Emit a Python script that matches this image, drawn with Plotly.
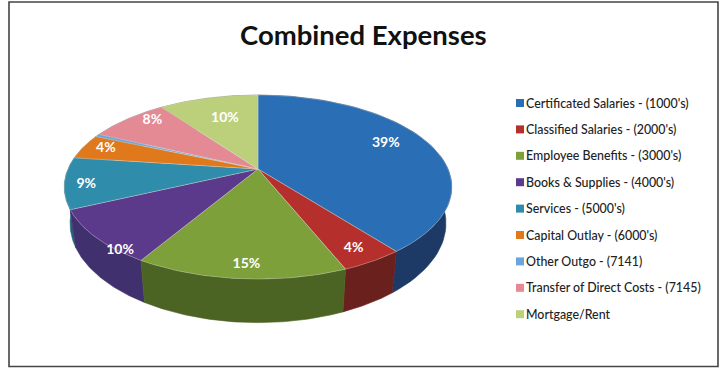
import numpy as np
import plotly.graph_objects as go

# Chart content
categories = ["Certificated Salaries - (1000's)", "Classified Salaries - (2000's)",
              "Employee Benefits - (3000's)", "Books & Supplies - (4000's)",
              "Services - (5000's)", "Capital Outlay - (6000's)", "Other Outgo - (7141)",
              "Transfer of Direct Costs - (7145)", "Mortgage/Rent"]
values = [39.4, 4.4, 14.7, 9.5, 9.0, 4.4, 0.5, 8.0, 10.0]
top_colors = ["#2a6fb5", "#b5302c", "#7ea03a", "#5b3a8c", "#2f8cab", "#e0791c", "#6aa6dc", "#e48a95", "#bcd07c"]
wall_colors = ["#1d3a66", "#6a201c", "#4b6323", "#41306e", "#24617a", "#8f4d12", "#44698c", "#90565e", "#76834e"]
title_text = "Combined Expenses"

# Projected disc: perspective tilt with the apex above the outline's middle
CX, CY = 258, 169
RX, RY, TILT = 190, 88.5, 0.196
DEPTH, FAR_SCALE = 35, 0.97
HIDDEN_LABEL_BELOW = 1.0
LABEL_RADIUS = 0.85
LABEL_NUDGE = [(-17, -2), (1, 3), (3, 6), (-3, 25), (-8, 4), (-3, -1), (0, 0), (7, -5), (10, 11)]


def project(theta, radius=1.0, lower=False):
    x = radius * np.sin(theta)
    y = radius * np.cos(theta)
    den = 1 + TILT * y
    px = x / den * RX * (FAR_SCALE if lower else 1.0)
    py = -y / den * RY + (DEPTH / den if lower else 0.0)
    return CX + px, CY + py


total = sum(values)
edges = 2 * np.pi * np.cumsum([0] + values) / total
fig = go.Figure()


def polygon(xs, ys, color, edge=None):
    fig.add_trace(go.Scatter(x=xs, y=ys, mode="lines", fill="toself", fillcolor=color,
                             line=dict(color=edge or color, width=0.6),
                             hoverinfo="skip", showlegend=False))


# Outer walls, back to front so nearer slices cover farther ones
order = sorted(range(len(values)), key=lambda i: np.cos((edges[i] + edges[i + 1]) / 2), reverse=True)
for i in order:
    arc = np.linspace(edges[i], edges[i + 1], 60)
    ux, uy = project(arc)
    lx, ly = project(arc[::-1], lower=True)
    polygon(np.r_[ux, lx, ux[0]], np.r_[uy, ly, uy[0]], wall_colors[i])

# Top faces
for i in range(len(values)):
    arc = np.linspace(edges[i], edges[i + 1], 60)
    ux, uy = project(arc)
    polygon(np.r_[CX, ux, CX], np.r_[CY, uy, CY], top_colors[i], "rgba(225,225,215,0.55)")

# Percentage labels derived from the slice values
lab_x, lab_y, lab_t = [], [], []
for i, v in enumerate(values):
    share = 100 * v / total
    if share < HIDDEN_LABEL_BELOW:
        continue
    lx, ly = project((edges[i] + edges[i + 1]) / 2, LABEL_RADIUS)
    lab_x.append(lx + LABEL_NUDGE[i][0])
    lab_y.append(ly + LABEL_NUDGE[i][1])
    lab_t.append(f"{round(share)}%")
fig.add_trace(go.Scatter(x=lab_x, y=lab_y, text=lab_t, mode="text", textposition="middle center",
                         textfont=dict(family="Lato", size=14, color="#ffffff", weight=700),
                         hoverinfo="skip", showlegend=False))

# Key on the right
rows = 103 + 26.4 * np.arange(len(categories))
fig.add_trace(go.Scatter(x=[520] * len(categories), y=rows, mode="markers",
                         marker=dict(symbol="square", size=8, color=top_colors),
                         hoverinfo="skip", showlegend=False))
fig.add_trace(go.Scatter(x=[526] * len(categories), y=rows + 1.5, text=categories, mode="text",
                         textposition="middle right",
                         textfont=dict(family="Lato", size=12.4, color="#222222", weight=500),
                         hoverinfo="skip", showlegend=False))

axis = dict(visible=False, fixedrange=True)
fig.update_layout(
    width=724, height=368, margin=dict(l=0, r=0, t=0, b=0),
    paper_bgcolor="#ffffff", plot_bgcolor="#ffffff",
    xaxis=dict(range=[0, 724], **axis), yaxis=dict(range=[368, 0], **axis),
    annotations=[dict(text=title_text, x=363, y=34, xref="x", yref="y", showarrow=False,
                      font=dict(family="Lato", size=27.5, color="#111111", weight=700))],
    shapes=[dict(type="rect", x0=9, y0=2, x1=718, y1=366.5, xref="x", yref="y",
                 line=dict(color="#444444", width=1.6))],
)
fig.write_html("out.html")
